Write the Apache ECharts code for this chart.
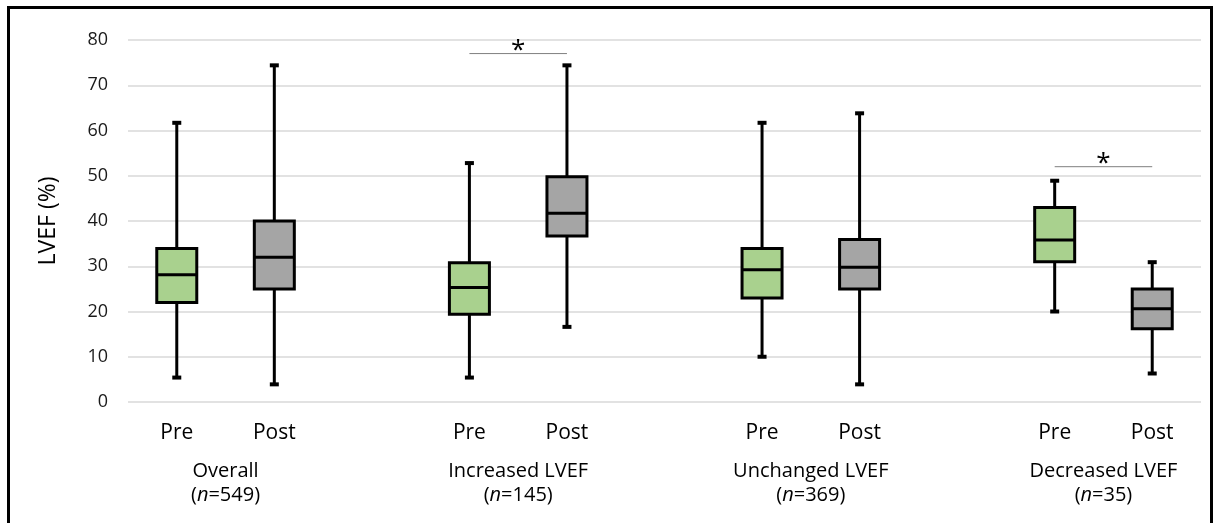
<!DOCTYPE html>
<html>
<head>
<meta charset="utf-8">
<script src="https://cdn.jsdelivr.net/npm/echarts@6/dist/echarts.min.js"></script>
<style>
  html, body { margin: 0; padding: 0; background: #fff; }
  #chart { width: 1217px; height: 523px; }
</style>
</head>
<body>
<div id="chart"></div>
<script>
// slots on the x axis: blank slots make the gaps between groups
const categories = ['Pre', 'Post', '', 'Pre', 'Post', '', 'Pre', 'Post', '', 'Pre', 'Post']
const groups = ['Overall', 'Increased LVEF', 'Unchanged LVEF', 'Decreased LVEF']
const groupN = [549, 145, 369, 35]
// [min, Q1, median, Q3, max]
const preStats = [
  [5.4, 22.0, 28.1, 33.9, 61.7],
  [5.4, 19.4, 25.3, 30.8, 52.8],
  [10.0, 23.0, 29.2, 33.9, 61.7],
  [20.0, 31.0, 35.8, 43.0, 48.9]
]
const postStats = [
  [3.9, 25.0, 32.0, 40.0, 74.4],
  [16.6, 36.7, 41.7, 49.8, 74.4],
  [3.9, 25.0, 29.8, 35.9, 63.8],
  [6.3, 16.2, 20.6, 25.0, 30.9]
]
const sigGroups = [1, 3]
const sigLevels = [77, 52]
const yTicks = { min: 0, max: 80, interval: 10 }

const FONT = '"Open Sans", "Noto Sans", sans-serif'
const colors = ['#a9d18e', '#a5a5a5']

const boxData = []
groups.forEach((g, i) => {
  boxData.push([i * 3].concat(preStats[i], [0]))
  boxData.push([i * 3 + 1].concat(postStats[i], [1]))
})
const sigData = sigGroups.map((g, i) => [g * 3, g * 3 + 1, sigLevels[i]])

const chart = echarts.init(document.getElementById('chart'))

function renderBox(params, api) {
  const x = api.coord([api.value(0), 0])[0]
  const y = [1, 2, 3, 4, 5].map(d => api.coord([api.value(0), api.value(d)])[1])
  const half = 20
  const cap = 4.5
  const line = { stroke: '#000', lineWidth: 3 }
  return {
    type: 'group',
    children: [
      { type: 'line', shape: { x1: x, y1: y[4], x2: x, y2: y[0] }, style: line },
      { type: 'line', shape: { x1: x - cap, y1: y[4], x2: x + cap, y2: y[4] }, style: { stroke: '#000', lineWidth: 4 } },
      { type: 'line', shape: { x1: x - cap, y1: y[0], x2: x + cap, y2: y[0] }, style: { stroke: '#000', lineWidth: 4 } },
      { type: 'rect', shape: { x: x - half, y: y[3], width: half * 2, height: y[1] - y[3] },
        style: { fill: colors[api.value(6)], stroke: '#000', lineWidth: 3 } },
      { type: 'line', shape: { x1: x - half, y1: y[2], x2: x + half, y2: y[2] }, style: line }
    ]
  }
}

function renderSig(params, api) {
  const a = api.coord([api.value(0), api.value(2)])
  const b = api.coord([api.value(1), api.value(2)])
  return {
    type: 'group',
    children: [
      { type: 'line', shape: { x1: a[0], y1: a[1], x2: b[0], y2: b[1] }, style: { stroke: '#7f7f7f', lineWidth: 1 } },
      { type: 'text', x: (a[0] + b[0]) / 2, y: a[1] + 10,
        style: { text: '*', font: '26px ' + FONT, fill: '#000', align: 'center', verticalAlign: 'bottom' } }
    ]
  }
}

chart.setOption({
  animation: false,
  grid: { left: 128, right: 16, top: 40, bottom: 121 },
  xAxis: {
    type: 'category',
    data: categories,
    axisLine: { show: false },
    axisTick: { show: false },
    axisLabel: { interval: 0, margin: 21, fontSize: 21, fontFamily: FONT, color: '#000' }
  },
  yAxis: {
    type: 'value',
    min: yTicks.min,
    max: yTicks.max,
    interval: yTicks.interval,
    name: 'LVEF (%)',
    nameLocation: 'middle',
    nameGap: 68,
    nameTextStyle: { fontSize: 23, fontFamily: FONT, color: '#000' },
    axisLine: { show: false },
    axisTick: { show: false },
    axisLabel: { margin: 20, fontSize: 18, fontFamily: FONT, color: '#1a1a1a' },
    splitLine: { lineStyle: { color: '#d9d9d9', width: 1.5 } }
  },
  series: [
    {
      type: 'custom',
      renderItem: renderBox,
      encode: { x: 0, y: [1, 2, 3, 4, 5] },
      data: boxData
    },
    {
      type: 'custom',
      renderItem: renderSig,
      encode: { x: [0, 1], y: 2 },
      data: sigData
    }
  ]
})

// group captions centred under each Pre/Post pair
const captions = []
groups.forEach((g, i) => {
  const x1 = chart.convertToPixel({ gridIndex: 0 }, [i * 3, 0])[0]
  const x2 = chart.convertToPixel({ gridIndex: 0 }, [i * 3 + 1, 0])[0]
  const cx = (x1 + x2) / 2
  captions.push({
    type: 'text', x: cx, y: 471,
    style: { text: g, font: '20px ' + FONT, fill: '#000', align: 'center', verticalAlign: 'middle' }
  })
  captions.push({
    type: 'text', x: cx, y: 495,
    style: {
      text: '(' + '{i|n}' + '=' + groupN[i] + ')',
      font: '20px ' + FONT, fill: '#000', align: 'center', verticalAlign: 'middle',
      rich: { i: { fontStyle: 'italic', fontSize: 20, fontFamily: FONT, fill: '#000' } }
    }
  })
})
captions.push({
  type: 'rect',
  shape: { x: 8.5, y: 7.5, width: 1203, height: 540 },
  style: { fill: 'none', stroke: '#000', lineWidth: 3 }
})
chart.setOption({ graphic: captions })
</script>
</body>
</html>
